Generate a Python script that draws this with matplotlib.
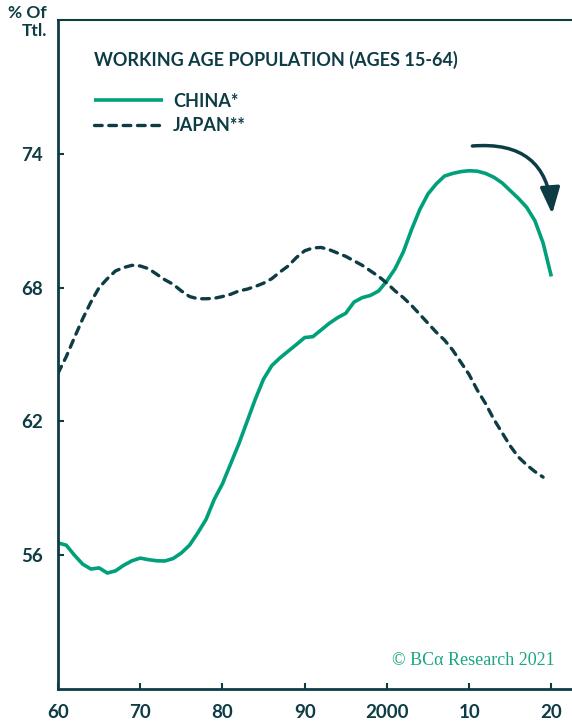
#!/usr/bin/env python3

import matplotlib
matplotlib.use('Agg')
import matplotlib.pyplot as plt
import numpy as np

DARK = '#0e3c45'
GREEN = '#00a07a'

years_china = np.arange(1960, 2021)
china = [
    56.55, 56.45, 56.0, 55.6, 55.38, 55.43, 55.2, 55.3, 55.55, 55.75,
    55.87, 55.8, 55.75, 55.74, 55.85, 56.1, 56.45, 57.0, 57.6, 58.5,
    59.2, 60.1, 61.0, 62.0, 63.0, 63.9, 64.5, 64.85, 65.15, 65.45,
    65.76, 65.8, 66.1, 66.4, 66.65, 66.85, 67.35, 67.55, 67.65, 67.85,
    68.3, 68.85, 69.6, 70.6, 71.5, 72.2, 72.65, 73.0, 73.12, 73.2,
    73.24, 73.22, 73.12, 72.95, 72.7, 72.35, 72.0, 71.6, 71.0, 70.0,
    68.5,
]

years_japan = np.arange(1960, 2020)
japan = [
    64.16, 64.9, 65.76, 66.6, 67.35, 68.0, 68.4, 68.75, 68.9, 69.0,
    68.97, 68.85, 68.6, 68.35, 68.15, 67.85, 67.6, 67.5, 67.5, 67.52,
    67.6, 67.7, 67.85, 67.93, 68.05, 68.2, 68.4, 68.7, 68.97, 69.35,
    69.65, 69.78, 69.8, 69.7, 69.55, 69.4, 69.2, 69.0, 68.75, 68.5,
    68.2, 67.85, 67.55, 67.2, 66.8, 66.4, 66.0, 65.65, 65.2, 64.65,
    64.1, 63.4, 62.8, 62.1, 61.5, 60.9, 60.4, 60.05, 59.75, 59.5,
]

x_ticks = [1960, 1970, 1980, 1990, 2000, 2010, 2020]
x_labels = ['60', '70', '80', '90', '2000', '10', '20']
y_ticks = [56, 62, 68, 74]


def draw(ax):
    ax.plot(years_china, china, color=GREEN, lw=2.6, label='CHINA*',
            solid_capstyle='butt')
    ax.plot(years_japan, japan, color=DARK, lw=2.4, label='JAPAN**',
            linestyle=(0, (2.3, 2.0)), dash_capstyle='round')

    ax.set_xlim(1960, 2023)
    ax.set_ylim(50, 80)
    ax.set_xticks(x_ticks, x_labels)
    ax.set_yticks(y_ticks)

    for side in ('left', 'bottom', 'top'):
        ax.spines[side].set_color(DARK)
    ax.spines['left'].set_linewidth(2.0)
    ax.spines['bottom'].set_linewidth(2.0)
    ax.spines['top'].set_linewidth(1.5)
    ax.spines['right'].set_visible(False)

    ax.tick_params(direction='in', length=4, width=1.5, color=DARK,
                   labelcolor=DARK, labelsize=13.5, pad=11)
    for lab in ax.get_xticklabels() + ax.get_yticklabels():
        lab.set_fontweight('bold')

    font = {'family': 'Lato', 'weight': 'bold', 'size': 13}
    leg = ax.legend(loc='upper left', bbox_to_anchor=(0.039, 0.978),
                    frameon=False, title='WORKING AGE POPULATION (AGES 15-64)',
                    alignment='left', handlelength=3.8, handletextpad=0.55,
                    labelspacing=0.43, prop=font, title_fontproperties=font)
    leg.get_title().set_color(DARK)
    leg._legend_box.sep = 17
    for t in leg.get_texts():
        t.set_color(DARK)

    ax.annotate('', xy=(2020.1, 71.3), xytext=(2010.4, 74.35),
                arrowprops=dict(arrowstyle='-|>,head_length=1.6,head_width=0.6',
                                connectionstyle='arc3,rad=-0.5',
                                color=DARK, lw=2.5, shrinkA=0, shrinkB=0))

    ax.text((555 - 58) / 518, 0.03, '\u00a9 BC\u03b1 Research 2021',
            transform=ax.transAxes, ha='right', va='bottom', color='#1aa685',
            fontsize=13, family='Liberation Serif')


def main():
    plt.rcParams['font.family'] = ['Lato', 'DejaVu Sans']
    fig = plt.figure(figsize=(5.72, 7.21), dpi=100)
    ax = fig.add_axes([58 / 572, 32 / 721, 518 / 572, 669 / 721])
    draw(ax)
    fig.text(47 / 572, 1 - 22 / 721, '% Of\nTtl.', ha='right', va='center',
             color=DARK, fontsize=12.5, fontweight='bold', linespacing=1.15)
    fig.savefig('out.png', dpi=100)


if __name__ == '__main__':
    main()
